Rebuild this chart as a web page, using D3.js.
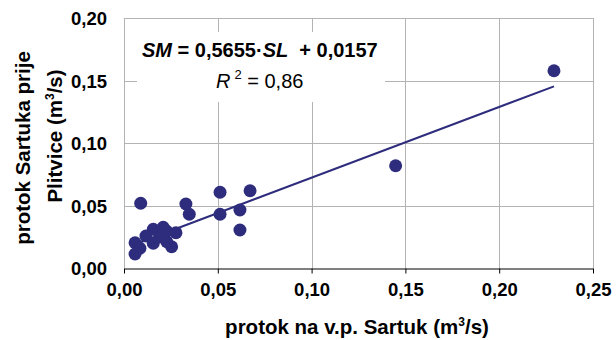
<!DOCTYPE html>
<html>
<head>
<meta charset="utf-8">
<script src="https://cdn.jsdelivr.net/npm/d3@7"></script>
<style>
  html, body { margin: 0; padding: 0; background: #fff; }
  svg { display: block; font-family: Arial, "Liberation Sans", sans-serif; }
</style>
</head>
<body>
<svg id="chart" width="616" height="340"></svg>
<script>
// Measured flows (m3/s): Sartuk gauge vs. Sartuk before Plitvice
const flowSL = [0.0089, 0.0512, 0.0672, 0.0330, 0.0348, 0.0512, 0.0618, 0.0618,
                0.0277, 0.0254, 0.0209, 0.0156, 0.0117, 0.0156, 0.0192, 0.0059,
                0.0085, 0.0059, 0.0228, 0.0228, 0.1448, 0.2292];
const flowSM = [0.0518, 0.0606, 0.0618, 0.0512, 0.0430, 0.0430, 0.0464, 0.0304,
                0.0282, 0.0170, 0.0326, 0.0310, 0.0256, 0.0198, 0.0250, 0.0202,
                0.0158, 0.0112, 0.0210, 0.0294, 0.0818, 0.1578];
const slope = 0.5655;
const intercept = 0.0157;
const r2Label = "0,86";
const xTicks = [0, 0.05, 0.10, 0.15, 0.20, 0.25];
const yTicks = [0, 0.05, 0.10, 0.15, 0.20];

const fmt = v => d3.format(".2f")(v).replace(".", ",");
const navy = "#2e2c7c";
const gridCol = "#b3b3b3";
const NBSP = "\u00a0";

const svg = d3.select("#chart");
const plotL = 124, plotR = 593, plotT = 18, plotB = 268;

const x = d3.scaleLinear().domain([0, 0.25]).range([plotL, plotR]);
const y = d3.scaleLinear().domain([0, 0.20]).range([plotB, plotT]);

// gridlines
const grid = svg.append("g");
grid.selectAll("line.v").data(xTicks.slice(1)).join("line")
  .attr("x1", d => Math.round(x(d)) + 0.5).attr("x2", d => Math.round(x(d)) + 0.5)
  .attr("y1", plotT).attr("y2", plotB)
  .attr("stroke", gridCol).attr("stroke-width", 1);
grid.selectAll("line.h").data(yTicks.slice(1)).join("line")
  .attr("y1", d => Math.round(y(d)) + 0.5).attr("y2", d => Math.round(y(d)) + 0.5)
  .attr("x1", plotL).attr("x2", plotR)
  .attr("stroke", gridCol).attr("stroke-width", 1);
// left edge of plot area
grid.append("line")
  .attr("x1", plotL + 0.5).attr("x2", plotL + 0.5).attr("y1", plotT).attr("y2", plotB)
  .attr("stroke", gridCol);

// x axis (black, ticks pointing down)
const xAxis = d3.axisBottom(x).tickValues(xTicks).tickFormat(fmt).tickSizeInner(5).tickSizeOuter(0);
const gx = svg.append("g").attr("transform", `translate(0,${plotB + 0.5})`).call(xAxis);
gx.select(".domain").attr("stroke", "#000");
gx.selectAll(".tick line").attr("stroke", "#000");
gx.selectAll(".tick text")
  .attr("y", 22).attr("dy", "0.32em")
  .attr("font-size", 18.5).attr("font-weight", "bold").attr("fill", "#000");

// y axis labels only
const yAxis = d3.axisLeft(y).tickValues(yTicks).tickFormat(fmt).tickSize(0);
const gy = svg.append("g").attr("transform", `translate(${plotL},0)`).call(yAxis);
gy.select(".domain").remove();
gy.selectAll(".tick text")
  .attr("x", -17).attr("dy", "0.36em")
  .attr("font-size", 18.5).attr("font-weight", "bold").attr("fill", "#000");

// regression line over the data range
const xMin = d3.min(flowSL), xMax = d3.max(flowSL);
svg.append("line")
  .attr("x1", x(xMin)).attr("y1", y(slope * xMin + intercept))
  .attr("x2", x(xMax)).attr("y2", y(slope * xMax + intercept))
  .attr("stroke", navy).attr("stroke-width", 2);

// points
svg.append("g").selectAll("circle").data(flowSL.map((d, i) => [d, flowSM[i]])).join("circle")
  .attr("cx", d => x(d[0])).attr("cy", d => y(d[1])).attr("r", 6.5)
  .attr("fill", navy);

// equation label
svg.append("rect").attr("x", 137).attr("y", 32).attr("width", 248).attr("height", 70).attr("fill", "#fff");
const eq = svg.append("text").attr("x", 142).attr("y", 57)
  .attr("font-size", 20).attr("font-weight", "bold").attr("fill", "#000");
eq.append("tspan").attr("font-style", "italic").text("SM");
eq.append("tspan").text(" = " + String(slope).replace(".", ",") + "·");
eq.append("tspan").attr("font-style", "italic").text("SL");
eq.append("tspan").text(NBSP + NBSP + "+ " + String(intercept).replace(".", ","));

const r2 = svg.append("text").attr("x", 216).attr("y", 88).attr("font-size", 20).attr("fill", "#000");
r2.append("tspan").attr("font-style", "italic").text("R");
r2.append("tspan").attr("font-size", 13).attr("dy", -9).attr("dx", 4).text("2");
r2.append("tspan").attr("dy", 9).text(NBSP + "= " + r2Label);

// axis titles
const xt = svg.append("text").attr("x", 357).attr("y", 334).attr("text-anchor", "middle")
  .attr("font-size", 20.5).attr("font-weight", "bold").attr("fill", "#000");
xt.append("tspan").text("protok na v.p. Sartuk (m");
xt.append("tspan").attr("font-size", 12).attr("dy", -8).text("3");
xt.append("tspan").attr("dy", 8).text("/s)");

svg.append("text").attr("transform", "translate(30,148) rotate(-90)")
  .attr("text-anchor", "middle").attr("font-size", 20.5).attr("font-weight", "bold").attr("fill", "#000")
  .text("protok Sartuka prije");
const yt2 = svg.append("text").attr("transform", "translate(62,136) rotate(-90)")
  .attr("text-anchor", "middle").attr("font-size", 20.5).attr("font-weight", "bold").attr("fill", "#000");
yt2.append("tspan").text("Plitvice (m");
yt2.append("tspan").attr("font-size", 12).attr("dy", -8).text("3");
yt2.append("tspan").attr("dy", 8).text("/s)");

// top and right border
svg.append("path")
  .attr("d", `M${plotL},${plotT + 0.5}H${plotR + 0.5}V${plotB}`)
  .attr("fill", "none").attr("stroke", gridCol);
</script>
</body>
</html>
